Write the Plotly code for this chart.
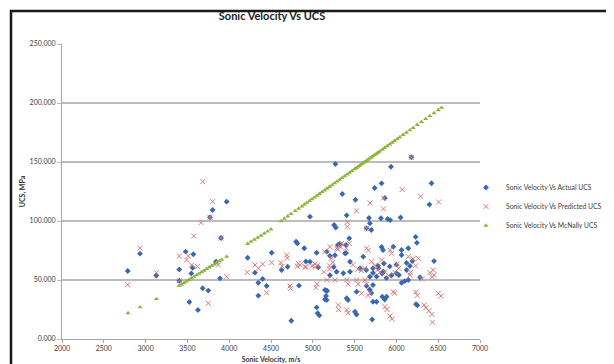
import plotly.graph_objects as go

# ---------------- data ----------------
actual_v = [2786, 2933, 3128, 3403, 3403, 3479, 3571, 3563, 3547, 3842, 3890, 3683, 3750, 3523, 3626,
            3770, 3802, 3970, 3902, 4221, 4308, 4348, 4400, 4448, 4348, 4508, 4627, 4699, 4800, 4815,
            4898, 5046, 4966, 5066, 4966, 4835, 5146, 5146, 5046, 5058, 4743, 5270, 5353, 5510, 5740,
            5405, 5255, 5275, 5683, 5643, 5397, 5397, 5524, 5422, 5710, 5935, 5823, 6420, 6395, 5815,
            5895, 6050, 6230, 6245, 6450, 6235, 5831, 5883, 6062, 6282, 6180, 5436, 5166, 5205, 5265,
            5300, 5325, 5385, 5445, 5604, 5565, 5640, 5720, 5823, 5840, 5963, 6062, 6062, 6142, 6190,
            5780, 5850, 5920, 6000, 6122, 5763, 5830, 5880, 5943, 5683, 5720, 5643, 5680, 5700, 5720,
            5860, 5720, 5763, 5166, 5166, 5405, 5504, 6100, 6142, 5365, 5445, 5205, 5250, 5285, 4917,
            5158, 5170, 5078, 5523, 5862, 5925, 6251, 5672, 5700, 6162, 6122, 6000, 6030, 5785, 5845]
actual_ucs = [57.6, 72.3, 53.7, 59.0, 49.4, 74.0, 71.8, 60.4, 55.6, 65.5, 51.4, 43.0, 41.0, 31.4, 24.6,
              103.1, 109.3, 116.4, 85.6, 68.9, 56.2, 47.7, 50.9, 44.9, 36.7, 73.1, 58.5, 61.2, 82.5, 81.0,
              76.9, 73.1, 65.5, 60.8, 103.7, 45.2, 41.5, 33.6, 26.8, 21.8, 15.5, 148.3, 122.9, 118.0, 128.0,
              104.8, 96.6, 94.5, 98.0, 93.8, 79.7, 72.9, 40.0, 33.0, 16.5, 146.0, 131.9, 132.0, 114.0, 102.3,
              101.7, 103.0, 86.5, 81.5, 66.0, 29.5, 35.9, 35.9, 47.7, 52.3, 154.0, 85.3, 74.0, 70.5, 71.0,
              79.7, 80.5, 72.6, 65.5, 69.8, 60.0, 58.5, 60.0, 78.0, 75.4, 78.2, 75.4, 71.2, 76.9, 66.0,
              62.0, 64.0, 61.5, 63.0, 64.5, 53.0, 55.5, 51.6, 54.0, 52.8, 55.9, 45.0, 42.0, 39.0, 45.8,
              33.5, 31.6, 31.6, 41.0, 33.0, 34.5, 23.1, 49.0, 50.0, 55.7, 57.0, 54.0, 61.0, 57.0, 65.7,
              36.4, 40.7, 20.0, 20.8, 119.5, 100.8, 28.5, 102.5, 92.4, 61.9, 58.5, 55.7, 54.2, 59.9, 57.0]

predicted_v = [2933, 2786, 3128, 3683, 3802, 3663, 3575, 3403, 3511, 3490, 3550, 3620, 3870, 3970, 3750,
               4216, 4308, 4350, 4400, 4448, 4508, 3403, 3770, 3902, 4633, 4695, 4735, 4815, 4848, 4917,
               4990, 5030, 5058, 5038, 5050, 5131, 5200, 5200, 5225, 5240, 5300, 5330, 5365, 5400, 5422,
               5414, 5414, 5308, 5422, 5523, 5685, 5665, 5540, 5643, 5743, 5775, 5803, 5846, 5846, 5925,
               5906, 5982, 6010, 6028, 6069, 6169, 6200, 6230, 6310, 6430, 6453, 6290, 6505, 6251, 5978,
               5685, 5660, 6351, 6424, 6432, 6533, 5947, 5887, 6180, 5146, 5205, 5643, 5943, 6142, 6262,
               5704, 5823, 5863, 5405, 5524, 5166, 5265, 5624, 5963, 6162, 5305, 5405, 5863, 5584, 5580,
               5620, 5540, 4619, 4826, 4906, 4688, 5026, 4727, 5286, 5345, 5436, 5480, 6333, 6389, 6230,
               5923, 6401, 6441, 6501, 5643]
predicted_ucs = [76.9, 46.0, 56.2, 133.3, 116.4, 98.6, 87.3, 70.3, 70.3, 67.0, 62.7, 61.5, 62.7, 52.8, 30.3,
                 56.5, 62.7, 60.0, 63.5, 39.2, 64.7, 49.4, 103.1, 85.6, 61.7, 68.6, 42.8, 61.7, 62.7, 61.0,
                 62.0, 61.0, 62.5, 43.6, 46.5, 56.8, 59.3, 62.0, 68.6, 65.0, 76.0, 78.0, 79.7, 77.0, 46.5,
                 95.2, 99.0, 25.0, 22.2, 108.6, 115.3, 75.2, 46.5, 46.5, 62.3, 58.5, 56.8, 119.5, 110.3, 75.2,
                 53.6, 56.5, 63.6, 60.0, 126.7, 56.5, 68.0, 62.0, 50.9, 52.5, 54.2, 120.9, 116.1, 37.0, 38.8,
                 39.0, 37.0, 26.4, 20.8, 14.2, 36.4, 17.0, 25.0, 154.0, 74.0, 78.2, 76.9, 72.6, 69.8, 68.4,
                 65.5, 66.9, 57.0, 50.0, 50.0, 50.0, 50.0, 50.0, 40.0, 54.2, 28.8, 24.6, 27.4, 38.7, 58.0,
                 60.0, 59.0, 64.7, 64.1, 61.2, 71.2, 63.6, 44.9, 76.9, 81.0, 81.0, 63.0, 28.8, 24.0, 39.8,
                 19.5, 56.2, 58.5, 38.7, 93.8]

mcnally_v = [2790, 2935, 3130, 3400, 3430, 3460, 3490, 3520, 3550, 3580, 3610, 3640, 3670, 3700, 3730,
             3760, 3790, 3820, 3850, 3880, 3910, 3970, 4220, 4260, 4300, 4340, 4380, 4420, 4460, 4500,
             4620, 4660, 4700, 4740, 4790, 4830, 4870, 4900, 4930, 4960, 4990, 5020, 5050, 5080, 5110,
             5140, 5170, 5200, 5230, 5260, 5290, 5320, 5350, 5380, 5410, 5440, 5470, 5500, 5520, 5540,
             5560, 5580, 5600, 5620, 5640, 5660, 5680, 5700, 5720, 5740, 5760, 5780, 5800, 5830, 5860,
             5890, 5920, 5950, 5980, 6010, 6040, 6080, 6120, 6160, 6200, 6250, 6300, 6350, 6400, 6450,
             6500, 6540]
mcnally_ucs = [22.0, 27.0, 34.0, 45.0, 46.3, 47.6, 48.9, 50.2, 51.5, 52.8, 54.1, 55.4, 56.7, 58.0, 59.4,
               60.7, 62.0, 63.3, 64.6, 65.9, 67.2, 69.8, 80.7, 82.5, 84.2, 86.0, 87.7, 89.5, 91.2, 93.0,
               100.0, 102.0, 104.0, 106.0, 108.5, 110.5, 112.5, 114.0, 115.5, 117.0, 118.5, 120.0, 121.5, 123.0, 124.5,
               126.0, 127.5, 129.0, 130.5, 132.0, 133.5, 135.0, 136.5, 138.0, 139.5, 141.0, 142.5, 144.0, 145.0, 146.0,
               147.0, 148.0, 149.0, 150.0, 151.0, 152.0, 153.0, 154.0, 155.0, 156.0, 157.0, 158.0, 159.0, 160.5, 162.0,
               163.5, 165.0, 166.5, 168.0, 169.5, 171.0, 173.0, 175.0, 177.0, 179.0, 181.5, 184.0, 186.5, 189.0, 191.5,
               194.0, 196.0]

series_names = ["Sonic Velocity Vs Actual UCS", "Sonic Velocity Vs Predicted UCS", "Sonic Velocity Vs McNally UCS"]
x_ticks = [2000, 2500, 3000, 3500, 4000, 4500, 5000, 5500, 6000, 6500, 7000]
y_ticks = [0, 50, 100, 150, 200, 250]

FONT = "Lato, 'Open Sans', sans-serif"

fig = go.Figure()
fig.add_trace(go.Scatter(x=actual_v, y=actual_ucs, mode="markers", name=series_names[0],
                         marker=dict(symbol="diamond", size=4.5, color="#3a67ad")))
fig.add_trace(go.Scatter(x=predicted_v, y=predicted_ucs, mode="markers", name=series_names[1],
                         marker=dict(symbol="x-thin-open", size=5, color="#d8797b",
                                     line=dict(width=1, color="#d8797b"))))
fig.add_trace(go.Scatter(x=mcnally_v, y=mcnally_ucs, mode="markers", name=series_names[2],
                         marker=dict(symbol="triangle-up", size=4.5, color="#8cb43c")))

# the page body adds an 8px offset; figure pixel = screen pixel - 8
OFF = 8
W, H = 614 - 2 * OFF, 364 - OFF
L, T = 62 - OFF, 44 - OFF
R = W - (480 - OFF)
B = H - (339 - OFF)
pw, ph = W - L - R, H - T - B

def px(sx):
    return (sx - OFF - L) / pw

def py(sy):
    return (H - B - (sy - OFF)) / ph

fig.update_layout(
    width=W, height=H,
    margin=dict(l=L, r=R, t=T, b=B, autoexpand=False),
    paper_bgcolor="white", plot_bgcolor="white",
    font=dict(family=FONT, color="#404040", size=7),
    title=dict(text="<b>Sonic Velocity Vs UCS</b>", x=(272 - OFF) / W, xanchor="center",
               y=1 - (16 - OFF) / H, yanchor="middle", font=dict(size=11, color="#222222", family=FONT)),
    showlegend=True,
    legend=dict(x=px(466), y=py(173), xanchor="left", yanchor="top",
                font=dict(size=6.8, color="#404040", family=FONT), bgcolor="rgba(0,0,0,0)",
                itemwidth=30, tracegroupgap=0),
    shapes=[dict(type="rect", xref="paper", yref="paper",
                 x0=px(11), x1=px(700), y0=py(420), y1=py(11),
                 line=dict(color="#1a1a1a", width=2.5), fillcolor="rgba(0,0,0,0)", layer="above")],
)
fig.update_xaxes(range=[2000, 7000], tickvals=x_ticks, ticktext=[str(v) for v in x_ticks],
                 showgrid=False, zeroline=False, showline=True, linecolor="#a6a6a6", linewidth=1,
                 ticks="outside", ticklen=3, tickcolor="#a6a6a6", tickfont=dict(size=7, color="#404040"),
                 title=dict(text="<b>Sonic Velocity, m/s</b>", font=dict(size=7, color="#333333"), standoff=5))
fig.update_yaxes(range=[0, 250], tickvals=y_ticks, ticktext=[f"{v:.3f}" for v in y_ticks],
                 showgrid=True, gridcolor="#bcbcbc", gridwidth=1.5, zeroline=False,
                 showline=True, linecolor="#a6a6a6", linewidth=1,
                 ticks="outside", ticklen=4, tickcolor="#bcbcbc", tickfont=dict(size=7, color="#404040"),
                 title=dict(text="<b>UCS, MPa</b>", font=dict(size=7, color="#333333"), standoff=3))

fig.write_html("out.html")
